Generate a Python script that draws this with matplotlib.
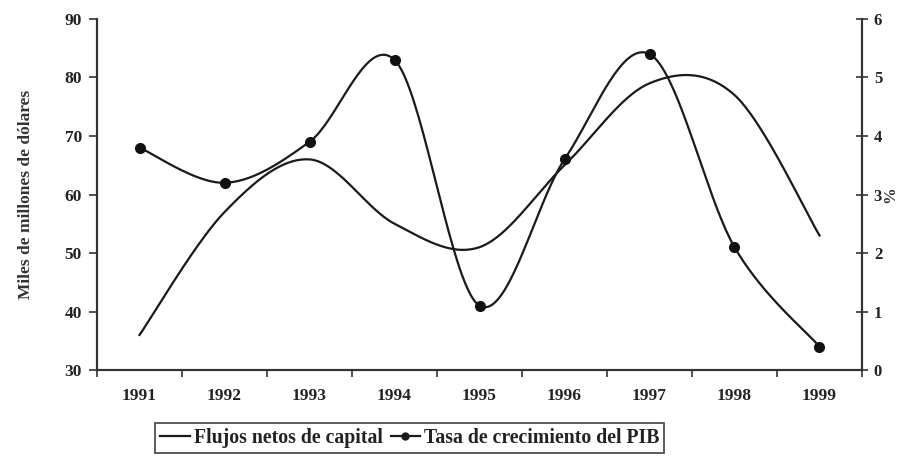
import numpy as np
import matplotlib
matplotlib.use("Agg")
import matplotlib.pyplot as plt
from matplotlib.lines import Line2D

years = ["1991", "1992", "1993", "1994", "1995", "1996", "1997", "1998", "1999"]
flujos = [36, 57, 66, 55, 51, 65, 79, 77, 53]            # miles de millones de dólares
pib = [3.8, 3.2, 3.9, 5.3, 1.1, 3.6, 5.4, 2.1, 0.4]      # %

left_ticks = [30, 40, 50, 60, 70, 80, 90]
right_ticks = [0, 1, 2, 3, 4, 5, 6]

plt.rcParams["font.family"] = ["Liberation Serif", "DejaVu Serif"]
plt.rcParams["font.weight"] = "bold"


def smooth(xs, ys, n=40):
    """Bezier smoothing through every point (spreadsheet-style smoothed line)."""
    xs = np.asarray(xs, float)
    ys = np.asarray(ys, float)
    px = np.concatenate([[xs[0]], xs, [xs[-1]]])
    py = np.concatenate([[ys[0]], ys, [ys[-1]]])
    ox, oy = [], []
    for i in range(1, len(px) - 2):
        p0 = np.array([px[i], py[i]])
        p3 = np.array([px[i + 1], py[i + 1]])
        c1 = p0 + (p3 - np.array([px[i - 1], py[i - 1]])) / 6.0
        c2 = p3 - (np.array([px[i + 2], py[i + 2]]) - p0) / 6.0
        t = np.linspace(0, 1, n)[:, None]
        pts = ((1 - t) ** 3) * p0 + 3 * ((1 - t) ** 2) * t * c1 + 3 * (1 - t) * t ** 2 * c2 + t ** 3 * p3
        ox.extend(pts[:, 0])
        oy.extend(pts[:, 1])
    return np.array(ox), np.array(oy)


fig = plt.figure(figsize=(9.01, 4.62), dpi=100)
ax = fig.add_axes([0.1077, 0.199, 0.8490, 0.760])
ax2 = ax.twinx()

x = np.arange(len(years))
sx, sy = smooth(x, flujos)
ax.plot(sx, sy, color="#1a1a1a", lw=1.6)
gx, gy = smooth(x, pib)
ax2.plot(gx, gy, color="#1a1a1a", lw=1.6)
ax2.plot(x, pib, ls="none", marker="o", ms=7, color="#111111")

ax.set_xlim(-0.5, len(years) - 0.5)
ax.set_ylim(30, 90)
ax2.set_ylim(0, 6)
ax.set_yticks(left_ticks)
ax2.set_yticks(right_ticks)

ax.set_xticks(x)
ax.set_xticklabels(years, fontsize=12.5, fontweight="bold", color="#222222")
ax.set_xticks(np.arange(-0.5, len(years)), minor=True)
ax.tick_params(axis="x", which="major", length=0, pad=13)
ax.tick_params(axis="x", which="minor", length=5, width=1.2, direction="out", color="#333333")
ax.tick_params(axis="y", length=6, width=1.2, direction="out", labelsize=12.5, color="#333333",
               labelcolor="#222222", pad=5)
ax2.tick_params(axis="y", length=9, width=1.2, direction="inout", labelsize=12, color="#333333",
                labelcolor="#222222", pad=4)
for lbl in ax.get_yticklabels() + ax2.get_yticklabels():
    lbl.set_fontweight("bold")

for a in (ax, ax2):
    a.spines["top"].set_visible(False)
    for s in ("left", "right", "bottom"):
        a.spines[s].set_linewidth(1.5)
        a.spines[s].set_color("#333333")

ax.set_ylabel("Miles de millones de dólares", fontsize=12.5, fontweight="bold", labelpad=22,
              color="#333333")
ax2.set_ylabel("%", fontsize=12, fontweight="bold", color="#333333",
               rotation=90, va="center", ha="center")
ax2.yaxis.set_label_coords(1.037, 0.5)

handles = [
    Line2D([], [], color="#1a1a1a", lw=1.6),
    Line2D([], [], color="#1a1a1a", lw=1.6, marker="o", ms=5),
]
leg = fig.legend(handles, ["Flujos netos de capital", "Tasa de crecimiento del PIB"],
                 loc="center", bbox_to_anchor=(0.455, 0.052), ncol=2, frameon=True,
                 fancybox=False, handlelength=1.5, handletextpad=0.2, columnspacing=0.4,
                 borderpad=0.25, prop={"size": 14.2, "weight": "bold"})
leg.get_frame().set_edgecolor("#222222")
leg.get_frame().set_linewidth(1.3)
for t in leg.get_texts():
    t.set_color("#222222")

fig.savefig("out.png", dpi=100)
